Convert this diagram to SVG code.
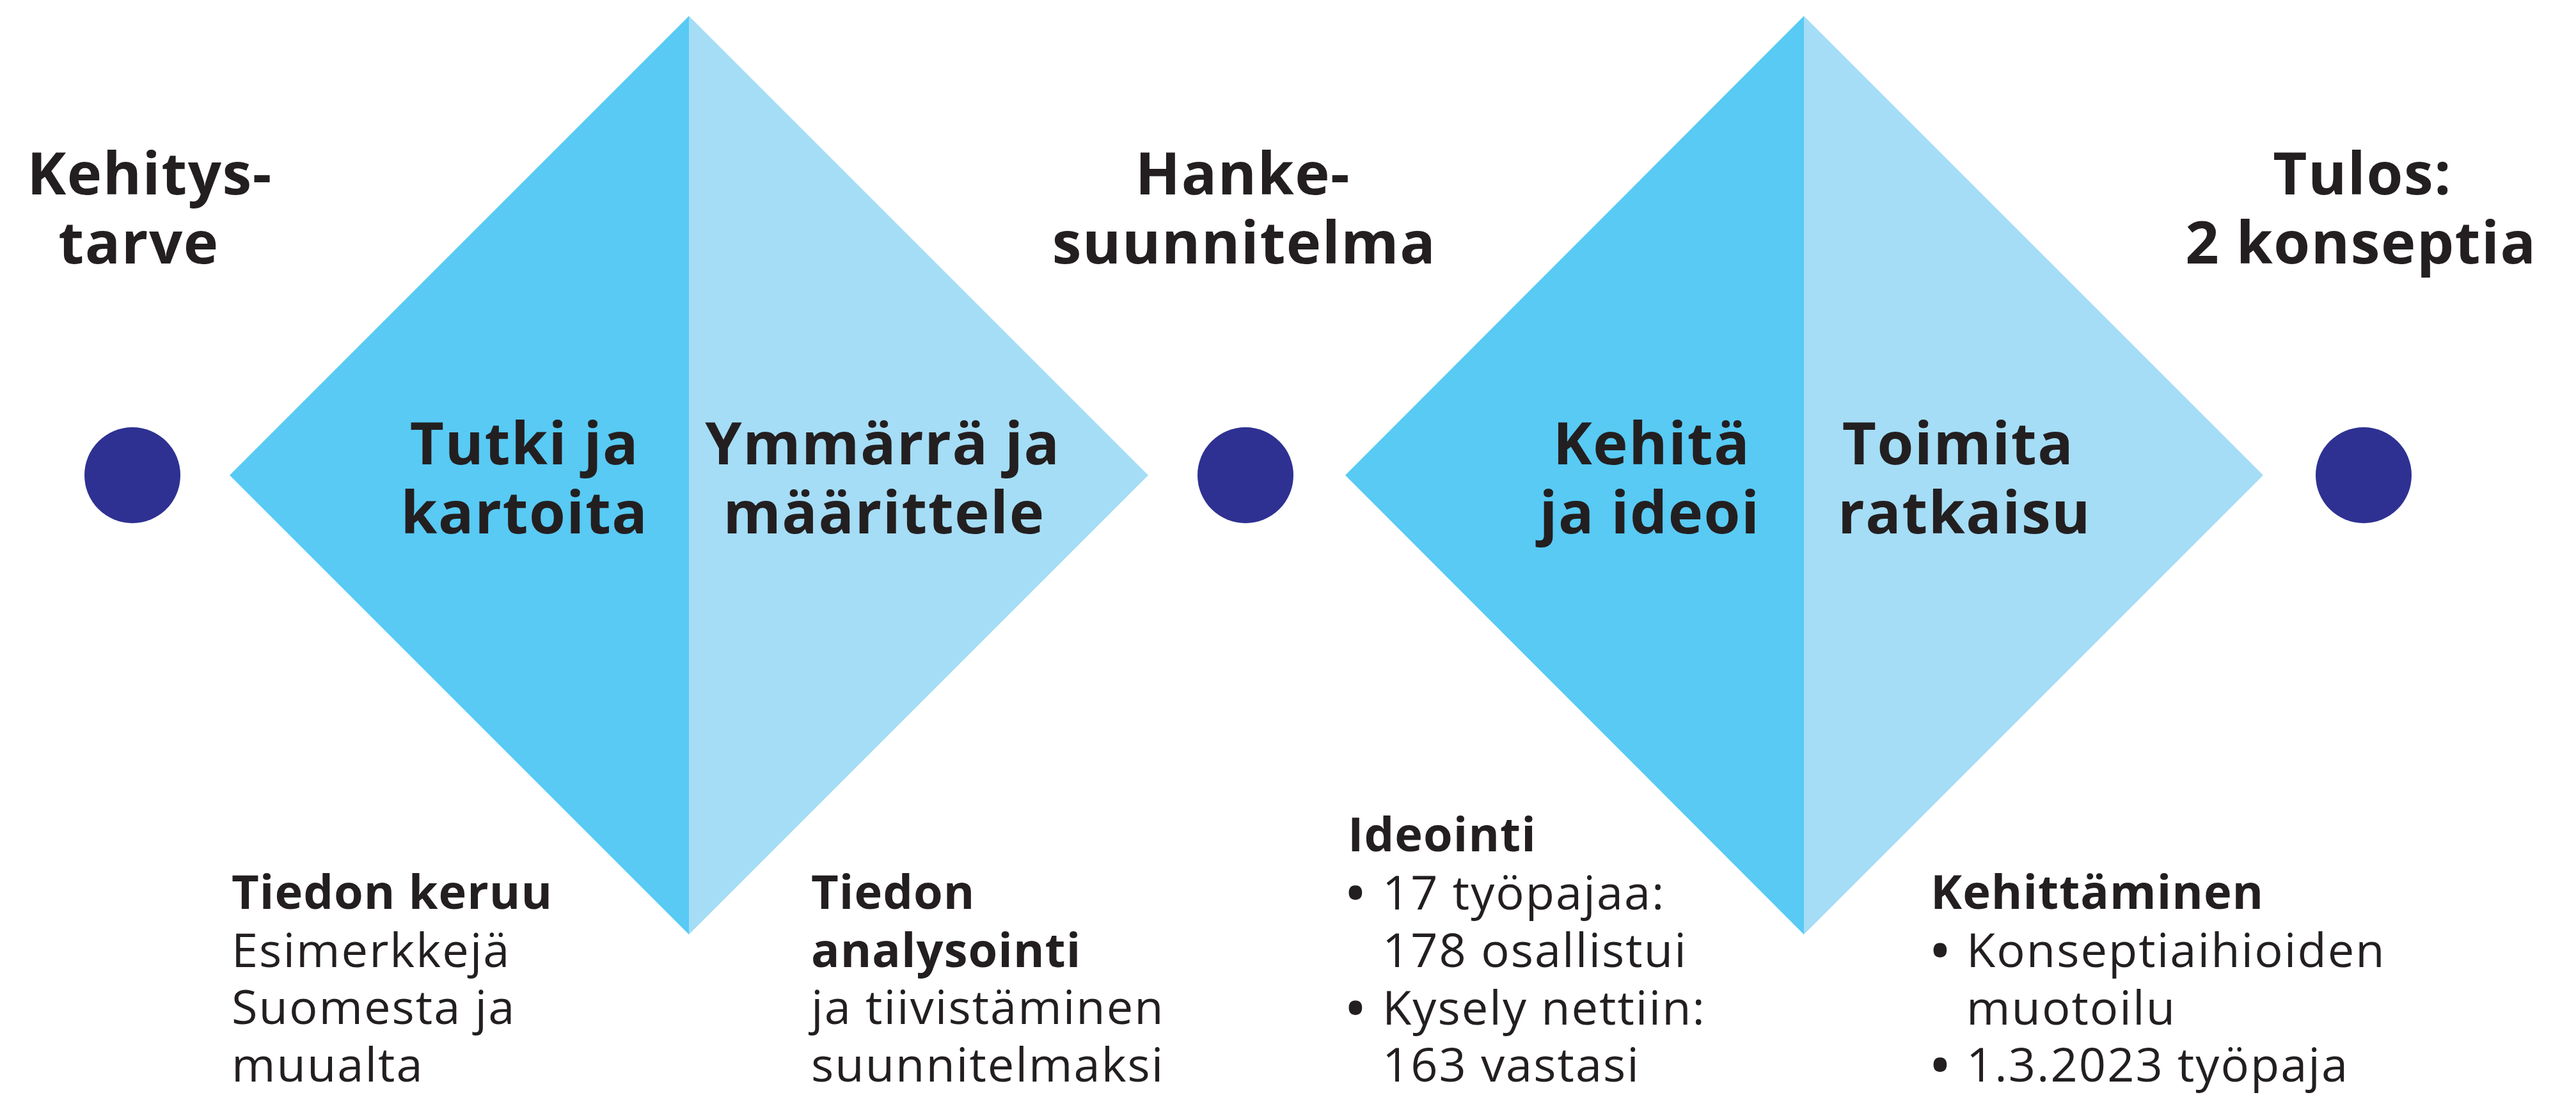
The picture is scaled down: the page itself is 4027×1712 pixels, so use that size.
<svg xmlns="http://www.w3.org/2000/svg" width="4027" height="1712" viewBox="0 0 4027 1712">
<style>
.t{font-family:"Open Sans","Noto Sans","Liberation Sans",sans-serif;fill:#231F20}
.h{font-size:92px;font-weight:700;text-anchor:middle;letter-spacing:1.5px}
.b{font-size:74px;font-weight:700;letter-spacing:1px}
.r{font-size:74px;font-weight:400;letter-spacing:2px}
.dk{fill:#58CAF4}
.lt{fill:#A5DDF6}
.dot{fill:#2E3192}
</style>
<rect width="4027" height="1712" fill="#FFFFFF"/>
<g id="start">
<circle class="dot" cx="207" cy="743" r="75"/>
<text class="t h" x="234" y="304">Kehitys-</text>
<text class="t h" x="217" y="412">tarve</text>
</g>
<g id="diamond1">
<polygon class="dk" points="359,743 1077,25 1077,1461"/>
<polygon class="lt" points="1077,25 1795,743 1077,1461"/>
<text class="t h" x="820" y="726">Tutki ja</text>
<text class="t h" x="820" y="834">kartoita</text>
<text class="t h" x="1380" y="726">Ymmärrä ja</text>
<text class="t h" x="1382" y="834">määrittele</text>
</g>
<g id="mid">
<circle class="dot" cx="1947" cy="743" r="75"/>
<text class="t h" x="1943" y="304">Hanke-</text>
<text class="t h" x="1945" y="412">suunnitelma</text>
</g>
<g id="diamond2">
<polygon class="dk" points="2103,743 2820,25 2820,1461"/>
<polygon class="lt" points="2820,25 3538,743 2820,1461"/>
<text class="t h" x="2582" y="726">Kehitä</text>
<text class="t h" x="2579" y="834">ja ideoi</text>
<text class="t h" x="3061" y="726">Toimita</text>
<text class="t h" x="3071" y="834">ratkaisu</text>
</g>
<g id="end">
<circle class="dot" cx="3695" cy="743" r="75"/>
<text class="t h" x="3693" y="304">Tulos:</text>
<text class="t h" x="3691" y="412">2 konseptia</text>
</g>
<g id="note1">
<text class="t b" x="362" y="1421">Tiedon keruu</text>
<text class="t r" x="362" y="1512">Esimerkkejä</text>
<text class="t r" x="362" y="1601">Suomesta ja</text>
<text class="t r" x="362" y="1691">muualta</text>
</g>
<g id="note2">
<text class="t b" x="1268" y="1421">Tiedon</text>
<text class="t b" x="1268" y="1512">analysointi</text>
<text class="t r" x="1268" y="1601">ja tiivistäminen</text>
<text class="t r" x="1268" y="1691">suunnitelmaksi</text>
</g>
<g id="note3">
<text class="t b" x="2107" y="1331">Ideointi</text>
<text class="t b" x="2105" y="1422">•</text>
<text class="t r" x="2161" y="1422">17 työpajaa:</text>
<text class="t r" x="2161" y="1512">178 osallistui</text>
<text class="t b" x="2105" y="1602">•</text>
<text class="t r" x="2161" y="1602">Kysely nettiin:</text>
<text class="t r" x="2161" y="1691">163 vastasi</text>
</g>
<g id="note4">
<text class="t b" x="3018" y="1421">Kehittäminen</text>
<text class="t b" x="3019" y="1512">•</text>
<text class="t r" x="3074" y="1512">Konseptiaihioiden</text>
<text class="t r" x="3074" y="1602">muotoilu</text>
<text class="t b" x="3019" y="1691">•</text>
<text class="t r" x="3074" y="1691">1.3.2023 työpaja</text>
</g>
<g id="connectors"></g>
</svg>
